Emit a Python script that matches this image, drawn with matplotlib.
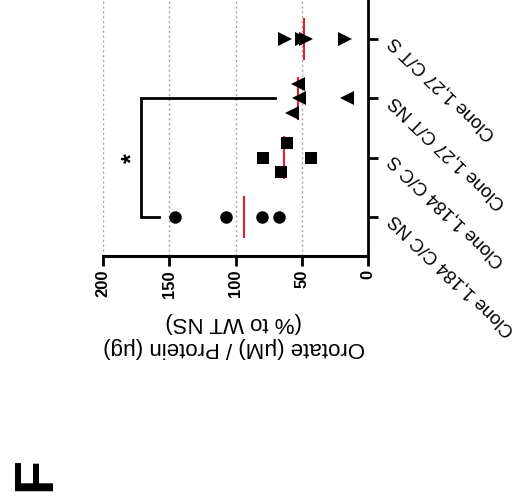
import numpy as np
import matplotlib
matplotlib.use("Agg")
import matplotlib.pyplot as plt

plt.rcParams["font.family"] = ["Liberation Sans", "DejaVu Sans"]

# categories, bottom to top as seen in the picture
categorias = ["Clone 1,184 C/C NS", "Clone 1,184 C/C S", "Clone 1,27 C/T NS", "Clone 1,27 C/T S"]

# Orotate (% to WT NS), one list per group
cc_ns = [146, 107, 80, 67]
cc_s = [61, 79, 43, 66]
ct_ns = [53, 52, 57, 16]
ct_s = [63, 50, 47, 17]

# small vertical spread of points that sit close together
spread_cc_ns = [0, 0, 0, 0]
spread_cc_s = [0.25, 0, 0, -0.25]
spread_ct_ns = [0.25, 0, -0.25, 0]
spread_ct_s = [0, 0, 0, 0]

ticks_valor = [0, 50, 100, 150, 200]

# significance bracket (Clone 1,184 C/C NS vs Clone 1,27 C/T NS)
bracket_x = 171
bracket_fim = [158, 70]
bracket_texto = "*"

grupos = [
    (cc_ns, spread_cc_ns, "o", 9),
    (cc_s, spread_cc_s, "s", 8),
    (ct_ns, spread_ct_ns, "<", 10),
    (ct_s, spread_ct_s, ">", 10),
]

fig = plt.figure(figsize=(5.21, 5.04), dpi=100)
ax = fig.add_axes([103 / 521, 1 - 256 / 504, 265 / 521, 256 / 504])

for i, (vals, spread, marker, ms) in enumerate(grupos):
    y = i + np.array(spread)
    ax.plot(vals, y, linestyle="none", marker=marker, markersize=ms,
            markeredgewidth=0, color="black", zorder=3)
    med = np.median(vals)
    ax.plot([med, med], [i - 0.34, i + 0.34], color="#e0202a", lw=1.5, zorder=2)

# bracket
ax.plot([bracket_fim[0], bracket_x, bracket_x, bracket_fim[1]], [0, 0, 2, 2],
        color="black", lw=2, solid_joinstyle="miter", zorder=3)
ax.text(bracket_x + 7, 1, bracket_texto, fontsize=18, ha="center", va="center",
        rotation=90, fontweight="bold")

ax.set_xlim(200, 0)
ax.set_ylim(-0.66, 3.66)
ax.set_xticks(ticks_valor)
ax.set_xticklabels([str(t) for t in ticks_valor], rotation=90, fontsize=12,
                   fontweight="bold")
ax.xaxis.grid(True, linestyle=(0, (1.5, 2)), color="#a0a0a0", lw=1)
ax.set_axisbelow(True)

ax.yaxis.tick_right()
ax.set_yticks(range(len(categorias)))
ax.set_yticklabels(categorias, rotation=136, rotation_mode="anchor",
                   ha="right", va="center", fontsize=13.3)

for lado in ["left", "top"]:
    ax.spines[lado].set_visible(False)
ax.spines["bottom"].set_linewidth(2.2)
ax.spines["right"].set_linewidth(2)
ax.tick_params(axis="x", length=7, width=2, pad=3)
ax.tick_params(axis="y", length=7, width=2, pad=10)

fig.text(234 / 521, 1 - 335 / 504, "Orotate (μM) / Protein (μg)\n(% to WT NS)",
         rotation=180, ha="center", va="center", fontsize=16, linespacing=1.3)
fig.text(36 / 521, 1 - 474 / 504, "F", rotation=90, ha="center", va="center",
         fontsize=40, fontweight="bold")

fig.savefig("out.png", dpi=100)
